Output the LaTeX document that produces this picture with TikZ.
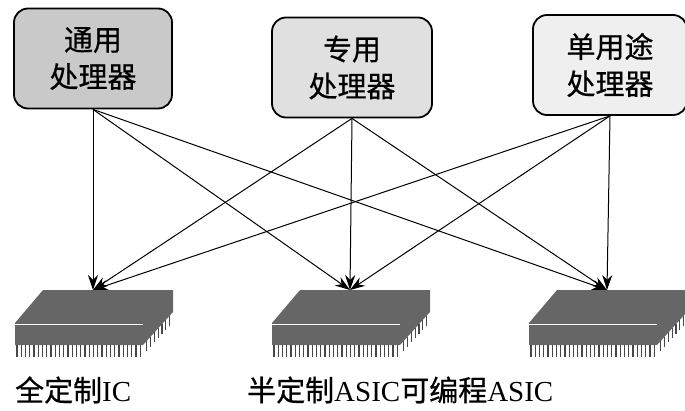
\documentclass[tikz,border=0pt]{standalone}
\usepackage{fontspec}
\setmainfont{Liberation Serif}
\newfontfamily\cjk[FakeBold=0.6]{Noto Sans CJK SC}
\usetikzlibrary{arrows.meta}
\definecolor{procA}{HTML}{C9C9C9}
\definecolor{procB}{HTML}{E0E0E0}
\definecolor{procC}{HTML}{EFEFEF}
\definecolor{chipgray}{HTML}{666666}
\tikzset{
  proc/.style={draw=black, line width=1.8pt, rounded corners=14pt,
    minimum height=100pt, align=center, inner sep=0pt,
    font=\fontsize{29}{37}\selectfont\cjk},
  link/.style={line width=1pt, -{Stealth[length=15pt,width=10pt]}},
  chiplabel/.style={anchor=west, inner sep=0pt, font=\fontsize{29}{32}\selectfont},
  pins/.style={line width=1.1pt, chipgray!70!black},
}
% one chip package; #1 = left edge of the front face
\newcommand{\chipat}[1]{%
  \begin{scope}[shift={(#1,0)}]
    \fill[chipgray] (28,290) -- (158,290) -- (158,312) -- (128,345) -- (0,345) -- (0,323) -- cycle;
    \draw[white, line width=1.6pt] (0,324.5) -- (128,324.5);
    \foreach \k in {0,...,29} {
      \draw[pins] ({2+4.25*\k},345) -- ({2+4.25*\k},357);
    }
    \foreach \k in {1,...,7} {
      \draw[pins] ({128+3.8*\k},{345-4.2*\k}) -- ({128+3.8*\k},{345-4.2*\k+10});
    }
  \end{scope}}
\begin{document}
\begin{tikzpicture}[x=1pt, y=-1pt]
  \useasboundingbox (0,0) rectangle (685,410);
  % processor boxes
  \node[proc, fill=procA, minimum width=158pt] (p1) at (93,58.5) {通用\\处理器};
  \node[proc, fill=procB, minimum width=160pt] (p2) at (352,67.5) {专用\\处理器};
  \node[proc, fill=procC, minimum width=154pt] (p3) at (610,65) {单用途\\处理器};
  % chip packages
  \chipat{15}
  \chipat{272}
  \chipat{529}
  \coordinate (c1) at (93,290);
  \coordinate (c2) at (350,290);
  \coordinate (c3) at (607,290);
  % every processor type can target every implementation style
  \foreach \p in {p1,p2,p3} {
    \foreach \c in {c1,c2,c3} {
      \draw[link] (\p.south) -- (\c);
    }
  }
  % labels
  \node[chiplabel] (l1) at (15,390) {{\cjk 全定制}IC};
  \node[chiplabel] (l2) at (247,390) {{\cjk 半定制}ASIC{\cjk 可编程}ASIC};
\end{tikzpicture}
\end{document}
